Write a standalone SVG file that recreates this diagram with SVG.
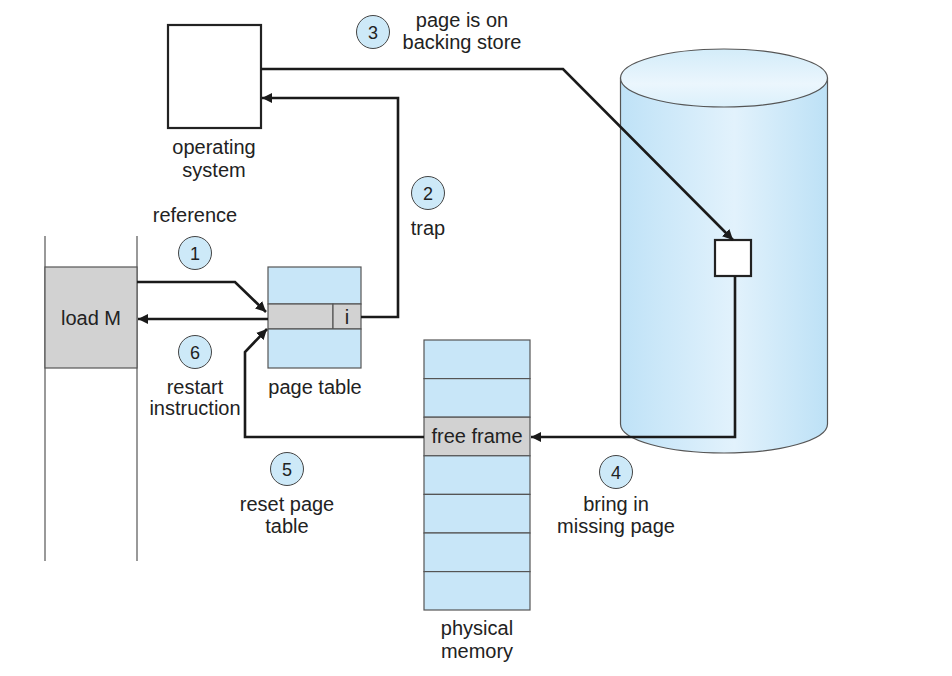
<svg xmlns="http://www.w3.org/2000/svg" width="952" height="676" viewBox="0 0 952 676">
<style>
text{font-family:"Liberation Sans",Arial,sans-serif;font-size:20px;fill:#222;text-anchor:middle}
.num{font-size:18px}
.step{fill:#cde9f8;stroke:#444;stroke-width:1}
.blue{fill:#c8e6f8;stroke:#555;stroke-width:1.2}
.gray{fill:#d2d2d2;stroke:#555;stroke-width:1.2}
.conn{fill:none;stroke:#1a1a1a;stroke-width:2.6;stroke-linejoin:miter}
.thin{stroke:#555;stroke-width:1.2;fill:none}
</style>
<defs>
<marker id="ah" viewBox="0 0 10 10" refX="10" refY="5" markerWidth="4" markerHeight="4" orient="auto" markerUnits="strokeWidth">
<path d="M0,0 L10,5 L0,10 Z" fill="#1a1a1a"/>
</marker>
<linearGradient id="cyl" x1="0" y1="0" x2="1" y2="0">
<stop offset="0" stop-color="#bfe2f7"/>
<stop offset="0.55" stop-color="#e2f2fc"/>
<stop offset="1" stop-color="#bde1f6"/>
</linearGradient>
<linearGradient id="top" x1="0" y1="0" x2="0" y2="1">
<stop offset="0" stop-color="#d3ecf9"/>
<stop offset="0.6" stop-color="#ebf6fd"/>
<stop offset="1" stop-color="#dbf0fb"/>
</linearGradient>
</defs>

<g id="disk">
<path d="M620.5,78 L620.5,424 A103.5,29 0 0 0 827.5,424 L827.5,78 Z" fill="url(#cyl)" stroke="#555" stroke-width="1.2"/>
<ellipse cx="724" cy="78" rx="103.5" ry="29" fill="url(#top)" stroke="#555" stroke-width="1.2"/>
</g>

<g id="os">
<rect x="168" y="25" width="93" height="103" fill="#fff" stroke="#222" stroke-width="2.2"/>
<text x="214" y="154">operating</text>
<text x="214" y="177">system</text>
</g>

<g id="program">
<line class="thin" x1="45" y1="236" x2="45" y2="561"/>
<line class="thin" x1="137" y1="236" x2="137" y2="561"/>
<rect class="gray" x="45" y="267" width="92" height="101"/>
<text x="91" y="325">load M</text>
</g>

<g id="pagetable">
<rect class="blue" x="268" y="267" width="93" height="37"/>
<rect class="gray" x="268" y="304" width="65" height="25"/>
<rect class="gray" x="333" y="304" width="28" height="25"/>
<rect class="blue" x="268" y="329" width="93" height="39"/>
<text x="347" y="324">i</text>
<text x="315" y="394">page table</text>
</g>

<g id="physmem">
<rect class="blue" x="424" y="340" width="106" height="38.6"/>
<rect class="blue" x="424" y="378.6" width="106" height="38.6"/>
<rect class="gray" x="424" y="417.2" width="106" height="38.6"/>
<rect class="blue" x="424" y="455.8" width="106" height="38.6"/>
<rect class="blue" x="424" y="494.4" width="106" height="38.6"/>
<rect class="blue" x="424" y="533" width="106" height="38.6"/>
<rect class="blue" x="424" y="571.6" width="106" height="38.4"/>
<text x="477" y="443">free frame</text>
<text x="477" y="635">physical</text>
<text x="477" y="658">memory</text>
</g>

<g id="page">
<rect x="715" y="240" width="36" height="36" fill="#fff" stroke="#222" stroke-width="2.2"/>
</g>

<g id="connectors">
<path class="conn" d="M137,282 L235,282 L266,312" marker-end="url(#ah)"/>
<path class="conn" d="M268,319 L138,319" marker-end="url(#ah)"/>
<path class="conn" d="M361,317 L398,317 L398,98 L262,98" marker-end="url(#ah)"/>
<path class="conn" d="M261,69 L563,69 L733,240" marker-end="url(#ah)"/>
<path class="conn" d="M735,276 L735,437 L531,437" marker-end="url(#ah)"/>
<path class="conn" d="M424,437 L245,437 L245,352 L267,329" marker-end="url(#ah)"/>
</g>

<g id="labels">
<g id="step1"><circle class="step" cx="195" cy="253" r="16.5"/><text class="num" x="195" y="259.5">1</text></g>
<text x="195" y="222">reference</text>
<g id="step2"><circle class="step" cx="428" cy="193" r="16.5"/><text class="num" x="428" y="199.5">2</text></g>
<text x="428" y="235">trap</text>
<g id="step3"><circle class="step" cx="373" cy="32" r="16.5"/><text class="num" x="373" y="38.5">3</text></g>
<text x="462" y="27">page is on</text>
<text x="462" y="49">backing store</text>
<g id="step4"><circle class="step" cx="616" cy="472" r="16.5"/><text class="num" x="616" y="478.5">4</text></g>
<text x="616" y="511">bring in</text>
<text x="616" y="533">missing page</text>
<g id="step5"><circle class="step" cx="287" cy="469" r="16.5"/><text class="num" x="287" y="475.5">5</text></g>
<text x="287" y="511">reset page</text>
<text x="287" y="533">table</text>
<g id="step6"><circle class="step" cx="195" cy="352" r="16.5"/><text class="num" x="195" y="358.5">6</text></g>
<text x="195" y="394">restart</text>
<text x="195" y="415">instruction</text>
</g>
</svg>
